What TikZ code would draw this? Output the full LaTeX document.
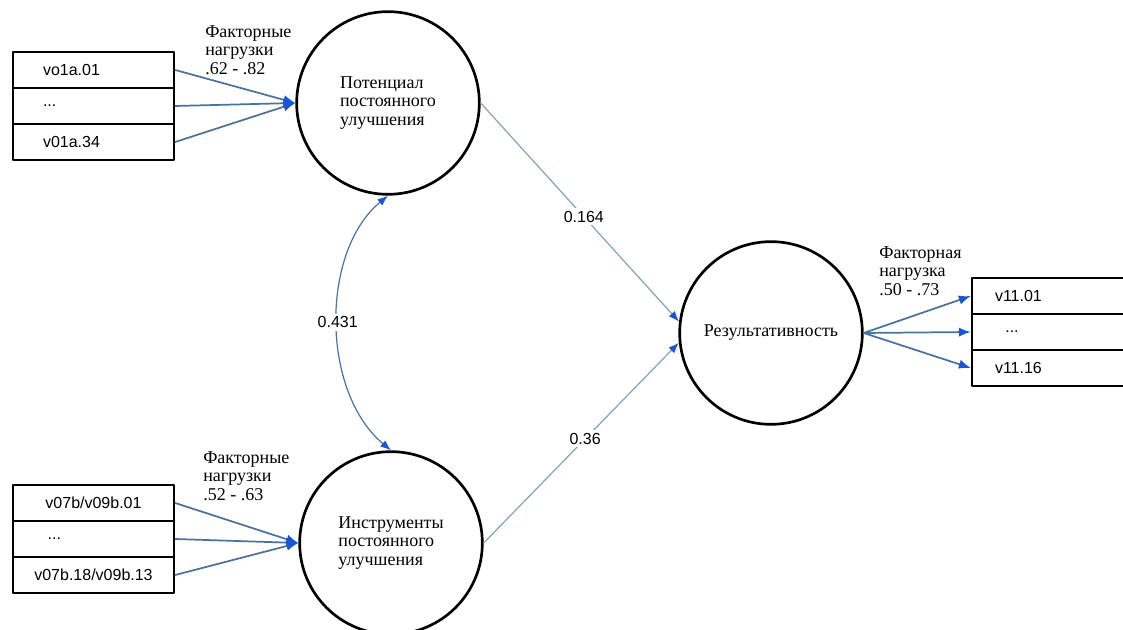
\documentclass[tikz,border=0pt]{standalone}
\usepackage{fontspec}
\setmainfont{Liberation Serif}
\setsansfont{Liberation Sans}
\usetikzlibrary{arrows.meta}
\definecolor{loadline}{RGB}{72,115,160}
\definecolor{pathline}{RGB}{125,165,180}
\definecolor{tipblue}{RGB}{25,85,215}

\begin{document}
\begin{tikzpicture}[x=0.75pt, y=0.75pt, line cap=round, line join=round,
	latent/.style={circle, draw, line width=2pt, minimum size=137pt, inner sep=0pt, align=left, font=\fontsize{13.5}{13.8}\selectfont},
	itembox/.style={draw, line width=1.8pt, minimum height=27pt, inner ysep=0pt, font=\sffamily\fontsize{12}{14}\selectfont},
	itemleft/.style={itembox, inner xsep=22.5pt, text width=75.75pt, align=left},
	itemmid/.style={itembox, inner xsep=4pt, text width=112.75pt, align=center},
	itemright/.style={itembox, inner xsep=17.25pt, text width=115.5pt, align=left},
	loadtxt/.style={inner sep=0pt, anchor=west, align=left, font=\fontsize{13.5}{13.8}\selectfont},
	coef/.style={fill=white, inner sep=2pt, font=\sffamily\fontsize{12}{14}\selectfont},
	loading/.style={draw=loadline, line width=1.3pt, -{Latex[length=9pt, width=7pt, color=tipblue]}},
	effectpath/.style={draw=pathline, line width=0.9pt, -{Latex[length=8pt, width=6pt, color=tipblue]}},
	corr/.style={draw=loadline, line width=0.9pt, {Latex[length=8pt, width=6pt, color=tipblue]}-{Latex[length=8pt, width=6pt, color=tipblue]}}]
	\useasboundingbox (0,0) rectangle (1123,630);
	\clip (0,0) rectangle (1123,630);

	% 1. Латентные факторы
	\node[latent] (pot) at (388,527) {Потенциал\\постоянного\\улучшения};
	\node[latent] (inst) at (391,87) {Инструменты\\постоянного\\улучшения};
	\node[latent] (res) at (771,297) {Результативность};

	% 2. Индикаторы (правые блоки уходят за край)
	\node[itemleft] (pa1) at (93.5,560) {vo1a.01};
	\node[itemleft] (pa2) at (93.5,524) {...};
	\node[itemleft] (pa3) at (93.5,488) {v01a.34};
	\node[itemmid] (ia1) at (93.5,127) {v07b/v09b.01};
	\node[itemleft, inner xsep=26pt, text width=68.75pt] (ia2) at (93.5,91) {...};
	\node[itemmid] (ia3) at (93.5,55) {v07b.18/v09b.13};
	\node[itemright] (ra1) at (1072,334) {v11.01};
	\node[itemright, inner xsep=25pt, text width=100pt] (ra2) at (1072,298) {...};
	\node[itemright] (ra3) at (1072,262) {v11.16};

	% 3. Факторные нагрузки
	\foreach \b in {pa1,pa2,pa3} \draw[loading] (\b.east) -- (pot.west);
	\foreach \b in {ia1,ia2,ia3} \draw[loading] (\b.east) -- (inst.west);
	\foreach \b in {ra1,ra2,ra3} \draw[loading] (res.east) -- (\b.west);
	\node[loadtxt] (lpa) at (205,580) {Факторные\\нагрузки\\.62 - .82};
	\node[loadtxt] (lia) at (203,154) {Факторные\\нагрузки\\.52 - .63};
	\node[loadtxt] (lra) at (879,359) {Факторная\\нагрузка\\.50 - .73};

	% 4. Связи между факторами
	\draw[effectpath] (pot.east) -- (res.173) node[coef, pos=0.52] (c1) {0.164};
	\draw[effectpath] (inst.east) -- (res.186) node[coef, pos=0.52] (c2) {0.36};
	\draw[corr] (pot.south) .. controls +(-68,-56) and +(-70,58) .. (inst.north) node[coef, pos=0.5] (c3) {0.431};
\end{tikzpicture}
\end{document}
